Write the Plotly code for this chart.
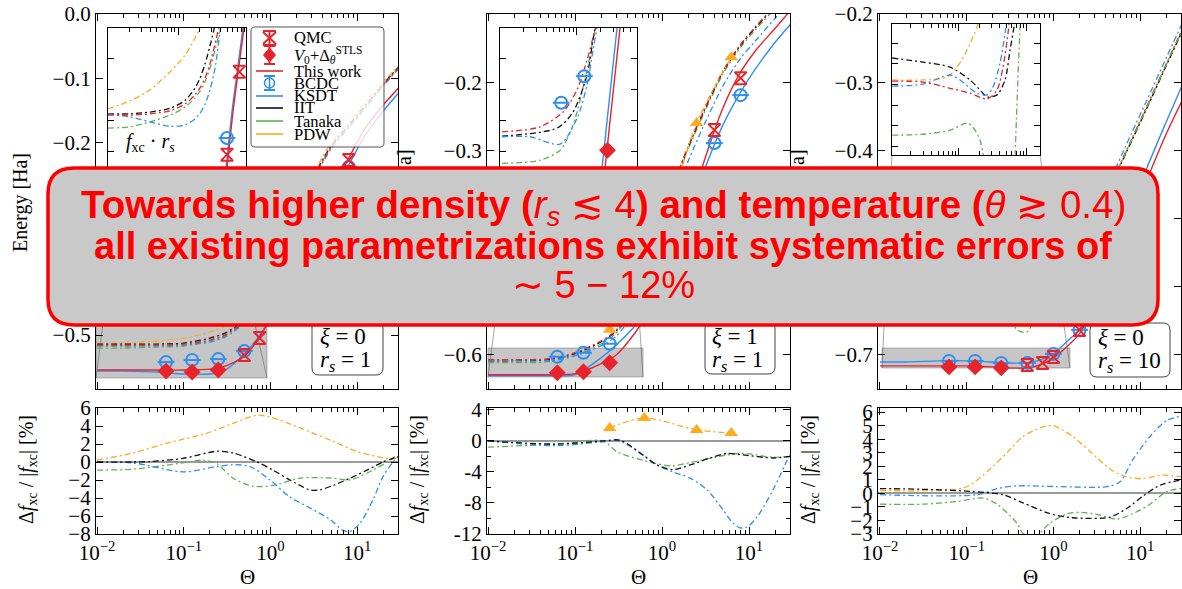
import plotly.graph_objects as go

W, H = 1182, 589

RED = "#e8232a"
BLUE = "#2f8ff0"
GREEN = "#5db350"
ORANGE = "#ffab1f"
BLACK = "#111111"
DASHDOT = "6px,3px,2px,3px"
SERIF = "Liberation Serif"
SANS = "Liberation Sans"

# ---------------------------------------------------------------- data
theta = [0.01, 0.02, 0.05, 0.1, 0.2, 0.3, 0.5, 0.7, 1, 1.5, 2, 3, 5, 8, 12, 20, 30]

# panel 1: xi = 0, rs = 1  (energies in Ha)
p1_thiswork = [-0.5545, -0.5545, -0.5545, -0.5545, -0.5530, -0.5483, -0.5327, -0.5093, -0.4735,
               -0.4221, -0.3863, -0.3333, -0.2741, -0.2243, -0.1807, -0.1417, -0.1153]
p1_ksdt = [-0.5561, -0.5561, -0.5576, -0.5607, -0.5607, -0.5545, -0.5296, -0.5062, -0.4735,
           -0.4268, -0.3941, -0.3427, -0.2850, -0.2352, -0.1916, -0.1511, -0.1231]
p1_thiswork_dd = [-0.5156, -0.5156, -0.5156, -0.5140, -0.5078, -0.5000, -0.4782, -0.4502, -0.4128,
                  -0.3536, -0.3146, -0.2601, -0.2072, -0.1745, -0.1464, -0.1106, -0.0841]
p1_ksdt_dd = [-0.5171, -0.5171, -0.5171, -0.5156, -0.5109, -0.5031, -0.4813, -0.4533, -0.4159,
              -0.3567, -0.3178, -0.2632, -0.2103, -0.1776, -0.1495, -0.1121, -0.0857]
p1_iit_dd = [-0.5140, -0.5140, -0.5140, -0.5125, -0.5047, -0.4969, -0.4766, -0.4486, -0.4112,
             -0.3520, -0.3131, -0.2586, -0.2056, -0.1729, -0.1449, -0.1090, -0.0826]
p1_tanaka_dd = [-0.5202, -0.5202, -0.5187, -0.5171, -0.5093, -0.5016, -0.4798, -0.4517, -0.4143,
                -0.3551, -0.3162, -0.2617, -0.2087, -0.1760, -0.1480, -0.1106, -0.0841]
p1_pdw_dd = [-0.5125, -0.5125, -0.5093, -0.5047, -0.4953, -0.4860, -0.4704, -0.4424, -0.4050,
             -0.3474, -0.3084, -0.2539, -0.2009, -0.1682, -0.1402, -0.1059, -0.0810]
p1_qmc_theta = [0.5, 0.75, 8]
p1_qmc = [-0.5312, -0.5047, -0.2274]
p1_v0_theta = [0.0625, 0.125, 0.25]
p1_v0 = [-0.5561, -0.5576, -0.5545]
p1_bcdc_theta = [0.0625, 0.125, 0.25, 0.5, 8]
p1_bcdc = [-0.5421, -0.5389, -0.5374, -0.5249, -0.2383]

# panel 1 inset: f_xc * rs
i1_theta_pdw = [0.01, 0.0206, 0.0398, 0.0767, 0.126, 0.175, 0.206, 0.243]
i1_pdw = [-0.5131, -0.5118, -0.5100, -0.5071, -0.5044, -0.5016, -0.5000, -0.4984]
i1_theta_iit = [0.01, 0.0206, 0.0398, 0.0767, 0.126, 0.175, 0.206, 0.243, 0.286, 0.337]
i1_iit = [-0.5139, -0.5139, -0.5136, -0.5130, -0.5117, -0.5097, -0.5081, -0.5058, -0.5029, -0.4995]
i1_theta_this = [0.01, 0.0206, 0.0398, 0.0767, 0.126, 0.175, 0.206, 0.243, 0.286, 0.337, 0.398]
i1_thiswork_dd = [-0.5141, -0.5141, -0.5139, -0.5134, -0.5123, -0.5108, -0.5097, -0.5081, -0.5058,
                  -0.5026, -0.4990]
i1_theta_long = [0.01, 0.0206, 0.0398, 0.0767, 0.126, 0.175, 0.206, 0.243, 0.286, 0.337, 0.398, 0.424]
i1_tanaka = [-0.5162, -0.5160, -0.5152, -0.5141, -0.5128, -0.5113, -0.5102, -0.5087, -0.5065,
             -0.5036, -0.5003, -0.4987]
i1_ksdt_dd = [-0.5139, -0.5144, -0.5152, -0.5159, -0.5157, -0.5147, -0.5138, -0.5123, -0.5100,
              -0.5065, -0.5006, -0.4987]
i1_theta_this_solid = [0.398, 0.50, 0.608, 0.766, 0.964]
i1_theta_ksdt_solid = [0.383, 0.484, 0.588, 0.741, 0.932]
i1_solid = [-0.5327, -0.5227, -0.5136, -0.5049, -0.4963]
i1_bcdc_theta = [0.5]
i1_bcdc = [-0.5178]
i1_qmc_theta = [0.5, 0.75]
i1_qmc = [-0.5205, -0.5071]

# panel 2: xi = 1, rs = 1
p2_thiswork = [-0.6290, -0.6290, -0.6290, -0.6275, -0.6129, -0.5997, -0.5660, -0.5367, -0.4972,
               -0.4430, -0.3947, -0.3186, -0.2381, -0.1854, -0.1531, -0.1209, -0.0946]
p2_ksdt = [-0.6305, -0.6305, -0.6305, -0.6290, -0.6041, -0.5851, -0.5558, -0.5280, -0.4928,
           -0.4387, -0.3947, -0.3318, -0.2630, -0.2146, -0.1795, -0.1414, -0.1151]
p2_thiswork_dd = [-0.6070, -0.6070, -0.6056, -0.5968, -0.5792, -0.5631, -0.5192, -0.4753, -0.4167,
                  -0.3362, -0.2937, -0.2425, -0.1839, -0.1444, -0.1180, -0.0873, -0.0653]
p2_iit_dd = [-0.6085, -0.6085, -0.6070, -0.5982, -0.5807, -0.5646, -0.5206, -0.4767, -0.4182,
             -0.3376, -0.2952, -0.2439, -0.1854, -0.1458, -0.1195, -0.0887, -0.0668]
p2_tanaka_dd = [-0.6114, -0.6114, -0.6100, -0.6012, -0.5836, -0.5675, -0.5236, -0.4796, -0.4211,
                -0.3406, -0.2981, -0.2469, -0.1883, -0.1488, -0.1224, -0.0917, -0.0697]
p2_ksdt_dd = [-0.6085, -0.6085, -0.6085, -0.6012, -0.5865, -0.5719, -0.5338, -0.4928, -0.4372,
              -0.3581, -0.3157, -0.2644, -0.2059, -0.1649, -0.1385, -0.1063, -0.0829]
p2_pdw_theta = [0.25, 0.625, 2.5, 6.25]
p2_pdw = [-0.5631, -0.4972, -0.2600, -0.1634]
p2_qmc_theta = [4, 8]
p2_qmc = [-0.2703, -0.1941]
p2_v0_theta = [0.0625, 0.125, 0.25]
p2_v0 = [-0.6261, -0.6246, -0.6114]
p2_bcdc_theta = [0.0625, 0.125, 0.25, 4, 8]
p2_bcdc = [-0.6026, -0.5968, -0.5836, -0.2893, -0.2190]

# panel 2 inset
i2_theta_this = [0.0106, 0.0331, 0.066, 0.1005, 0.1355, 0.172, 0.2]
i2_thiswork_dd = [-0.5168, -0.5160, -0.5136, -0.5100, -0.5052, -0.5003, -0.4971]
i2_theta_iit = [0.0106, 0.0552, 0.0891, 0.1355, 0.162, 0.183]
i2_iit = [-0.5175, -0.5162, -0.5136, -0.5076, -0.5019, -0.4979]
i2_theta_ksdt = [0.0106, 0.0245, 0.0604, 0.1005, 0.1355, 0.162, 0.19]
i2_ksdt_dd = [-0.5176, -0.5176, -0.5188, -0.5146, -0.5092, -0.5036, -0.4987]
i2_theta_tanaka = [0.0106, 0.0331, 0.0604, 0.0891, 0.1355, 0.172, 0.19]
i2_tanaka = [-0.5219, -0.5214, -0.5198, -0.5157, -0.5068, -0.5003, -0.4979]
i2_theta_ksdt_solid = [0.2, 0.212, 0.333, 0.35]
i2_theta_this_solid = [0.22, 0.232, 0.364, 0.38]
i2_solid = [-0.5262, -0.5227, -0.5000, -0.4971]
i2_bcdc_theta = [0.0625, 0.125]
i2_bcdc = [-0.5121, -0.5078]
i2_v0_theta = [0.25]
i2_v0 = [-0.5198]

# panel 3: xi = 0, rs = 10
p3_thiswork = [-0.7161, -0.7161, -0.7161, -0.7161, -0.7176, -0.7191, -0.7191, -0.7147, -0.7044,
               -0.6853, -0.6692, -0.6252, -0.5651, -0.5021, -0.4434, -0.3760, -0.3290]
p3_ksdt = [-0.7103, -0.7103, -0.7088, -0.7088, -0.7103, -0.7117, -0.7117, -0.7073, -0.6985,
           -0.6780, -0.6633, -0.6164, -0.5534, -0.4874, -0.4258, -0.3584, -0.3070]
p3_thiswork_dd = [-0.6194, -0.6194, -0.6194, -0.6194, -0.6179, -0.6164, -0.6120, -0.6076, -0.5974,
                  -0.5724, -0.5460, -0.4991, -0.4390, -0.3833, -0.3349, -0.2733, -0.2249]
p3_iit_dd = [-0.6135, -0.6135, -0.6150, -0.6164, -0.6179, -0.6194, -0.6164, -0.6106, -0.6003,
             -0.5754, -0.5490, -0.5021, -0.4419, -0.3862, -0.3378, -0.2762, -0.2279]
p3_pdw_dd = [-0.6194, -0.6194, -0.6194, -0.6179, -0.6135, -0.6076, -0.6018, -0.5988, -0.5930,
             -0.5710, -0.5460, -0.4991, -0.4405, -0.3848, -0.3364, -0.2748, -0.2264]
p3_ksdt_dd = [-0.6208, -0.6208, -0.6194, -0.6179, -0.6164, -0.6135, -0.6135, -0.6076, -0.5959,
              -0.5695, -0.5416, -0.4933, -0.4317, -0.3745, -0.3261, -0.2645, -0.2161]
p3_tanaka_theta = [0.01, 0.02, 0.05, 0.1, 0.2, 0.3, 0.38, 0.5, 0.65, 1, 1.5, 2, 3, 5, 8, 12, 20, 30]
p3_tanaka_dd = [-0.6267, -0.6267, -0.6252, -0.6238, -0.6194, -0.6370, -0.6633, -0.6663, -0.6370,
                -0.6018, -0.5754, -0.5475, -0.5006, -0.4405, -0.3848, -0.3364, -0.2748, -0.2264]
p3_qmc_theta = [0.5, 0.75, 1, 2]
p3_qmc = [-0.7147, -0.7117, -0.7029, -0.6633]
p3_v0_theta = [0.0625, 0.125, 0.25]
p3_v0 = [-0.7176, -0.7176, -0.7190]
p3_bcdc_theta = [0.0625, 0.125, 0.25, 0.5, 1, 2]
p3_bcdc = [-0.7088, -0.7088, -0.7117, -0.7117, -0.6985, -0.6633]

# panel 3 inset
i3_theta_iit = [0.0106, 0.030, 0.0746, 0.1465, 0.227, 0.26, 0.364, 0.477, 0.565, 0.646, 0.7]
i3_iit = [-0.5036, -0.5046, -0.5058, -0.5089, -0.5121, -0.5130, -0.5125, -0.5089, -0.5017, -0.4961, -0.4920]
i3_theta_pdw = [0.0106, 0.030, 0.0675, 0.0945, 0.1324, 0.1855, 0.21]
i3_pdw = [-0.5089, -0.5089, -0.5082, -0.5058, -0.5017, -0.4961, -0.4932]
i3_theta_this = [0.0106, 0.030, 0.0746, 0.1465, 0.26, 0.364, 0.446, 0.528, 0.565]
i3_thiswork_dd = [-0.5092, -0.5094, -0.5109, -0.5121, -0.5135, -0.5113, -0.5058, -0.4976, -0.4932]
i3_theta_ksdt = [0.0106, 0.030, 0.0746, 0.1045, 0.1855, 0.26, 0.318, 0.403, 0.477, 0.51]
i3_ksdt_dd = [-0.5104, -0.5099, -0.5077, -0.5089, -0.5121, -0.5125, -0.5106, -0.5048, -0.4976, -0.4932]
i3_theta_tanaka = [0.0106, 0.030, 0.0746, 0.1324, 0.162, 0.205, 0.227, 0.243, None, 0.66, 0.70, 0.79, 0.83]
i3_tanaka = [-0.5222, -0.5220, -0.5210, -0.5193, -0.5203, -0.5234, -0.5266, -0.5307, None,
             -0.5307, -0.5186, -0.4968, -0.4920]

# relative deviations [%]
d1_theta_pdw = [0.01, 0.026, 0.064, 0.186, 0.37, 0.70, 0.99, 2.19, 5.27, 10, 17, 24, 29.5]
d1_pdw = [0.22, 1.0, 2.1, 3.2, 4.3, 5.2, 5.0, 3.8, 2.3, 1.15, 0.6, 0.35, 0.45]
d1_theta_iit = [0.01, 0.026, 0.0408, 0.098, 0.242, 0.37, 0.70, 1.07, 1.68, 2.86, 3.73, 5.27, 8.28, 13.0, 19.9, 29.5]
d1_iit = [0.0, 0.0, 0.05, 0.4, 1.2, 1.0, 0.0, -0.9, -2.0, -3.1, -3.1, -2.6, -1.8, -0.9, 0.0, 0.6]
d1_theta_ksdt = [0.01, 0.026, 0.098, 0.242, 0.37, 0.582, 0.99, 1.68, 2.86, 4.87, 6.87, 8.28, 10.8, 15.2, 19.9, 25.9, 29.5]
d1_ksdt = [0.0, -0.1, -1.1, -0.5, -0.3, -0.5, -2.0, -3.9, -5.1, -6.4, -7.6, -7.7, -6.8, -4.2, -1.6, 0.0, 0.6]
d1_theta_tanaka = [0.01, 0.026, 0.098, 0.167, 0.242, 0.37, 0.63, 1.07, 2.19, 5.27, 8.28, 15.2, 22.1, 29.5]
d1_tanaka = [-0.9, -0.8, -0.1, 0.2, -0.2, -1.8, -2.7, -2.6, -1.8, -1.8, -2.0, -0.9, 0.0, 0.8]

d2_theta_iit = [0.01, 0.062, 0.21, 0.329, 0.605, 0.877, 1.34, 2.1, 3.56, 5.59, 8.53, 18.9, 29.6]
d2_iit = [0.0, -0.4, 0.0, 0.1, -1.8, -3.1, -3.7, -3.1, -2.2, -1.6, -1.8, -2.2, -2.0]
d2_theta_tanaka = [0.01, 0.062, 0.21, 0.304, 0.605, 1.03, 1.34, 2.1, 5.59, 8.53, 18.9, 29.6]
d2_tanaka = [-0.8, -0.4, 0.0, -1.4, -2.5, -3.1, -3.2, -2.8, -1.8, -1.6, -2.1, -2.0]
d2_theta_ksdt = [0.01, 0.062, 0.21, 0.329, 0.877, 1.34, 2.1, 3.29, 5.03, 6.55, 7.88, 9.49, 12.4, 18.9, 27.4, 29.6]
d2_ksdt = [0.0, -0.6, -0.1, 0.0, -3.1, -4.0, -4.8, -6.3, -8.9, -10.6, -11.2, -11.1, -9.8, -6.3, -2.5, -1.8]
d2_theta_pdw = [0.25, 0.625, 2.5, 6.25]
d2_pdw = [1.68, 2.97, 1.42, 1.03]

d3_theta_pdw = [0.01, 0.0773, 0.109, 0.186, 0.292, 0.446, 0.759, 0.99, 1.68, 2.64, 4.5, 7.06, 10.8, 18.4, 30.5]
d3_pdw = [0.2, 0.3, 0.6, 1.8, 3.0, 4.2, 4.9, 5.0, 4.2, 3.1, 1.8, 1.2, 1.1, 1.35, 1.2]
d3_theta_ksdt = [0.01, 0.1315, 0.224, 0.38, 1.10, 4.15, 5.87, 8.28, 13.0, 20.5, 30.5]
d3_ksdt = [-0.1, -0.1, 0.35, 0.55, 0.5, 0.5, 0.85, 2.5, 4.2, 5.4, 5.7]
d3_theta_iit = [0.01, 0.0313, 0.109, 0.262, 0.446, 0.914, 1.68, 4.5, 7.06, 10.8, 17.0, 30.5]
d3_iit = [0.35, 0.3, 0.15, -0.1, -0.7, -1.5, -1.8, -1.75, -1.1, -0.2, 0.6, 1.0]
d3_theta_tanaka = [0.01, 0.0313, 0.0773, 0.154, 0.224, 0.38, 0.446, 0.647, 0.914, 1.44, 2.03, 3.45,
                   5.42, 8.28, 13.0, 20.5, 30.5]
d3_tanaka = [-0.8, -0.8, -0.6, -0.35, -0.8, -2.2, -2.95, -3.05, -2.2, -1.5, -1.4, -1.6, -1.9, -1.5,
             -0.8, 0.15, 0.35]

legend_labels = ["QMC", "<i>V</i><sub>0</sub>+Δ<sub><i>θ</i></sub><sup>STLS</sup>", "This work",
                 "BCDC", "KSDT", "IIT", "Tanaka", "PDW"]


# ---------------------------------------------------------------- helpers
def fx(x):
    return x / W


def fy(y):
    return 1 - y / H


def dom_x(a, b):
    return [a / W, b / W]


def dom_y(top, bottom):
    return [1 - bottom / H, 1 - top / H]


def ax_name(n, kind):
    return kind + ("" if n == 1 else str(n))


fig = go.Figure()


def add_line(n, x, y, color, dash=None, width=1.3, opacity=1.0):
    fig.add_trace(go.Scatter(
        x=x, y=y, mode="lines", opacity=opacity,
        line=dict(color=color, width=width, dash=dash, shape="spline", smoothing=0.8),
        xaxis=ax_name(n, "x"), yaxis=ax_name(n, "y"), showlegend=False, hoverinfo="skip",
        connectgaps=False))


def add_markers(n, x, y, kind):
    common = dict(x=x, y=y, xaxis=ax_name(n, "x"), yaxis=ax_name(n, "y"), showlegend=False,
                  hoverinfo="skip", cliponaxis=True)
    if kind == "qmc":
        fig.add_trace(go.Scatter(mode="markers", marker=dict(
            symbol="hourglass-open", size=12, color=RED, line=dict(width=2, color=RED)), **common))
    elif kind == "v0":
        fig.add_trace(go.Scatter(mode="markers", marker=dict(
            symbol="diamond", size=13, color=RED, line=dict(width=0)), **common))
    elif kind == "bcdc":
        fig.add_trace(go.Scatter(mode="markers", marker=dict(
            symbol="circle-open", size=12, color=BLUE, line=dict(width=2, color=BLUE)), **common))
        fig.add_trace(go.Scatter(mode="markers", marker=dict(
            symbol="line-ew-open", size=12, color=BLUE, line=dict(width=2, color=BLUE)), **common))
    elif kind == "pdw":
        fig.add_trace(go.Scatter(mode="markers", marker=dict(
            symbol="triangle-up", size=12, color=ORANGE, line=dict(width=0)), **common))


TICKFONT = dict(family=SERIF, size=21, color="black")
minor_vals = [m * 10 ** e for e in (-2, -1, 0, 1) for m in range(2, 10)]
BASE = dict(showline=True, linecolor="black", linewidth=1.2, mirror="ticks", ticks="inside",
            ticklen=7, tickwidth=1.1, tickcolor="black", showgrid=False, zeroline=False,
            tickfont=TICKFONT, fixedrange=True, automargin=False)
LOGX = dict(type="log", tickmode="array", tickvals=[0.01, 0.1, 1, 10],
            minor=dict(tickmode="array", tickvals=minor_vals, ticks="inside", ticklen=4,
                       tickcolor="black", showgrid=False))

layout = {}


def set_axes(n, xdom, ydom, xcfg, ycfg):
    xa, ya = ax_name(n, "xaxis"), ax_name(n, "yaxis")
    layout[xa] = dict(BASE, domain=xdom, anchor=ax_name(n, "y"), **xcfg)
    layout[ya] = dict(BASE, domain=ydom, anchor=ax_name(n, "x"), **ycfg)


XR = [-2.012, 1.471]
main_ydom = dom_y(14, 389)
DECADES = ["10<sup>−2</sup>", "10<sup>−1</sup>", "10<sup>0</sup>", "10<sup>1</sup>"]

# panel 1 -----------------------------------------------------------
set_axes(1, dom_x(96, 398), main_ydom,
         dict(LOGX, range=XR, showticklabels=False),
         dict(range=[-0.584, 0.0], tickvals=[0, -0.1, -0.2, -0.3, -0.4, -0.5], tickformat=".1f"))
set_axes(2, dom_x(96, 398), dom_y(408, 534),
         dict(LOGX, range=XR, ticktext=DECADES),
         dict(range=[-8, 6], tickvals=[-8, -6, -4, -2, 0, 2, 4, 6],
              zeroline=True, zerolinecolor="#9a9a9a", zerolinewidth=1.5))
set_axes(3, dom_x(108, 246), dom_y(28, 285),
         dict(LOGX, range=[-2, -0.03], showticklabels=False, tickvals=[0.01, 0.1]),
         dict(range=[-0.5416, -0.5], tick0=-0.5, dtick=0.005, showticklabels=False, ticklen=6))

# panel 2 -----------------------------------------------------------
set_axes(4, dom_x(487, 790), main_ydom,
         dict(LOGX, range=XR, showticklabels=False),
         dict(range=[-0.65, -0.1], tickvals=[-0.6, -0.5, -0.4, -0.3, -0.2], tickformat=".1f"))
set_axes(5, dom_x(487, 790), dom_y(408, 534),
         dict(LOGX, range=XR, ticktext=DECADES),
         dict(range=[-12, 4.25], tickvals=[-12, -8, -4, 0, 4], ticktext=["-12", "-8", "-4", "0", "4"],
              minor=dict(tickmode="array", tickvals=[-10, -6, -2, 2], ticks="inside", ticklen=4,
                         tickcolor="black"),
              zeroline=True, zerolinecolor="#9a9a9a", zerolinewidth=1.5))
set_axes(6, dom_x(500, 637), dom_y(28, 285),
         dict(LOGX, range=[-2, -0.218], showticklabels=False, tickvals=[0.01, 0.1]),
         dict(range=[-0.5416, -0.5], tick0=-0.5, dtick=0.005, showticklabels=False, ticklen=6))

# panel 3 -----------------------------------------------------------
XR3 = [-2.023, 1.472]
set_axes(7, dom_x(878, 1181), main_ydom,
         dict(LOGX, range=XR3, showticklabels=False),
         dict(range=[-0.75, -0.2], tickvals=[-0.7, -0.6, -0.5, -0.4, -0.3, -0.2], tickformat=".1f"))
set_axes(8, dom_x(878, 1181), dom_y(408, 534),
         dict(LOGX, range=XR3, ticktext=DECADES),
         dict(range=[-3, 6.3], tickvals=[-3, -2, -1, 0, 1, 2, 3, 4, 5, 6],
              zeroline=True, zerolinecolor="#9a9a9a", zerolinewidth=1.5))
set_axes(9, dom_x(892, 1040), dom_y(24, 155),
         dict(LOGX, range=[-1.977, 0.191], showticklabels=False, tickvals=[0.01, 0.1, 1]),
         dict(range=[-0.527, -0.4954], tick0=-0.5, dtick=0.005, showticklabels=False, ticklen=6))

# ---------------------------------------------------------------- traces
for n, this_s, ksdt_s, dd in [
    (1, p1_thiswork, p1_ksdt, [(p1_pdw_dd, ORANGE), (p1_tanaka_dd, GREEN), (p1_iit_dd, BLACK),
                               (p1_ksdt_dd, BLUE), (p1_thiswork_dd, RED)]),
    (4, p2_thiswork, p2_ksdt, [(p2_tanaka_dd, GREEN), (p2_iit_dd, BLACK),
                               (p2_ksdt_dd, BLUE), (p2_thiswork_dd, RED)]),
    (7, p3_thiswork, p3_ksdt, [(p3_pdw_dd, ORANGE), (p3_iit_dd, BLACK),
                               (p3_ksdt_dd, BLUE), (p3_thiswork_dd, RED)]),
]:
    for vals, col in dd:
        add_line(n, theta, vals, col, DASHDOT, 1.3)
    add_line(n, theta, ksdt_s, BLUE, None, 1.4)
    add_line(n, theta, this_s, RED, None, 1.4)

add_line(7, p3_tanaka_theta, p3_tanaka_dd, GREEN, DASHDOT, 1.3)
add_line(4, p2_pdw_theta, p2_pdw, ORANGE, DASHDOT, 1.3)

add_markers(1, p1_bcdc_theta, p1_bcdc, "bcdc")
add_markers(1, p1_v0_theta, p1_v0, "v0")
add_markers(1, p1_qmc_theta, p1_qmc, "qmc")
add_markers(4, p2_bcdc_theta, p2_bcdc, "bcdc")
add_markers(4, p2_v0_theta, p2_v0, "v0")
add_markers(4, p2_qmc_theta, p2_qmc, "qmc")
add_markers(4, p2_pdw_theta, p2_pdw, "pdw")
add_markers(7, p3_bcdc_theta, p3_bcdc, "bcdc")
add_markers(7, p3_v0_theta, p3_v0, "v0")
add_markers(7, p3_qmc_theta, p3_qmc, "qmc")

# insets
add_line(3, i1_theta_pdw, i1_pdw, ORANGE, DASHDOT)
add_line(3, i1_theta_iit, i1_iit, BLACK, DASHDOT)
add_line(3, i1_theta_long, i1_tanaka, GREEN, DASHDOT)
add_line(3, i1_theta_long, i1_ksdt_dd, BLUE, DASHDOT)
add_line(3, i1_theta_this, i1_thiswork_dd, RED, DASHDOT)
add_line(3, i1_theta_ksdt_solid, i1_solid, BLUE, None, 1.4)
add_line(3, i1_theta_this_solid, i1_solid, RED, None, 1.4)
add_markers(3, i1_bcdc_theta, i1_bcdc, "bcdc")
add_markers(3, i1_qmc_theta, i1_qmc, "qmc")

add_line(6, i2_theta_tanaka, i2_tanaka, GREEN, DASHDOT)
add_line(6, i2_theta_iit, i2_iit, BLACK, DASHDOT)
add_line(6, i2_theta_ksdt, i2_ksdt_dd, BLUE, DASHDOT)
add_line(6, i2_theta_this, i2_thiswork_dd, RED, DASHDOT)
add_line(6, i2_theta_ksdt_solid, i2_solid, BLUE, None, 1.4)
add_line(6, i2_theta_this_solid, i2_solid, RED, None, 1.4)
add_markers(6, i2_bcdc_theta, i2_bcdc, "bcdc")
add_markers(6, i2_v0_theta, i2_v0, "v0")

add_line(9, i3_theta_tanaka, i3_tanaka, GREEN, DASHDOT)
add_line(9, i3_theta_pdw, i3_pdw, ORANGE, DASHDOT)
add_line(9, i3_theta_iit, i3_iit, BLACK, DASHDOT)
add_line(9, i3_theta_ksdt, i3_ksdt_dd, BLUE, DASHDOT)
add_line(9, i3_theta_this, i3_thiswork_dd, RED, DASHDOT)

# relative deviations
add_line(2, d1_theta_pdw, d1_pdw, ORANGE, DASHDOT)
add_line(2, d1_theta_tanaka, d1_tanaka, GREEN, DASHDOT)
add_line(2, d1_theta_ksdt, d1_ksdt, BLUE, DASHDOT)
add_line(2, d1_theta_iit, d1_iit, BLACK, DASHDOT)

add_line(5, d2_theta_tanaka, d2_tanaka, GREEN, DASHDOT)
add_line(5, d2_theta_ksdt, d2_ksdt, BLUE, DASHDOT)
add_line(5, d2_theta_iit, d2_iit, BLACK, DASHDOT)
add_line(5, d2_theta_pdw, d2_pdw, ORANGE, DASHDOT)
add_markers(5, d2_theta_pdw, d2_pdw, "pdw")

add_line(8, d3_theta_pdw, d3_pdw, ORANGE, DASHDOT)
add_line(8, d3_theta_tanaka, d3_tanaka, GREEN, DASHDOT)
add_line(8, d3_theta_ksdt, d3_ksdt, BLUE, DASHDOT)
add_line(8, d3_theta_iit, d3_iit, BLACK, DASHDOT)


# ---------------------------------------------------------------- shapes
def rounded_path(x0, y0, x1, y1, r):
    def P(x, y):
        return f"{fx(x):.5f},{fy(y):.5f}"
    return (f"M {P(x0 + r, y0)} L {P(x1 - r, y0)} Q {P(x1, y0)} {P(x1, y0 + r)} "
            f"L {P(x1, y1 - r)} Q {P(x1, y1)} {P(x1 - r, y1)} L {P(x0 + r, y1)} "
            f"Q {P(x0, y1)} {P(x0, y1 - r)} L {P(x0, y0 + r)} Q {P(x0, y0)} {P(x0 + r, y0)} Z")


shapes = []


def pline(x0, y0, x1, y1, color, width=1.0, layer="above"):
    shapes.append(dict(type="line", xref="paper", yref="paper", x0=fx(x0), y0=fy(y0),
                       x1=fx(x1), y1=fy(y1), line=dict(color=color, width=width), layer=layer))


# zoomed regions and their connectors
for (rx0, ry0, rx1, ry1), (ix0, iy1, ix1) in [((96, 305, 267, 378), (108, 285, 246)),
                                              ((488, 348, 643, 377), (500, 285, 637)),
                                              ((882, 348, 1070, 368), (892, 155, 1040))]:
    shapes.append(dict(type="rect", xref="paper", yref="paper", x0=fx(rx0), x1=fx(rx1),
                       y0=fy(ry1), y1=fy(ry0), fillcolor="rgba(120,120,120,0.42)",
                       line=dict(color="rgba(90,90,90,0.5)", width=0.8), layer="below"))
    pline(ix0, iy1, rx0, ry1, "rgba(90,90,90,0.6)", 0.9, "below")
    pline(ix1, iy1, rx1, ry1, "rgba(90,90,90,0.6)", 0.9, "below")

# legend frame and handles
shapes.append(dict(type="path", xref="paper", yref="paper", path=rounded_path(251, 27, 384, 147, 4),
                   fillcolor="rgba(255,255,255,0.8)", line=dict(color="#555555", width=1), layer="above"))
LX0, LX1, LXC = 256, 283, 269.5
for (a, b, c, d) in [(263, 31, 276, 31), (263, 45, 276, 45), (263, 32, 276, 44), (276, 32, 263, 44),
                     (LXC, 31, LXC, 45)]:
    pline(a, b, c, d, RED, 2)
pline(LXC, 46, LXC, 64, RED, 2)
pline(264, 46, 275, 46, RED, 2)
pline(264, 64, 275, 64, RED, 2)
shapes.append(dict(type="path", xref="paper", yref="paper",
                   path=f"M {fx(LXC)},{fy(48)} L {fx(LXC + 6)},{fy(55)} L {fx(LXC)},{fy(62)} "
                        f"L {fx(LXC - 6)},{fy(55)} Z",
                   fillcolor=RED, line=dict(color=RED, width=1), layer="above"))
pline(LXC, 76, LXC, 90, BLUE, 1.6)
pline(264, 76, 275, 76, BLUE, 2)
pline(264, 90, 275, 90, BLUE, 2)
shapes.append(dict(type="circle", xref="paper", yref="paper", x0=fx(LXC - 5), x1=fx(LXC + 5),
                   y0=fy(88), y1=fy(78), line=dict(color=BLUE, width=1.6), layer="above"))
for yy, col in [(71, RED), (96, BLUE), (108, BLACK), (121, GREEN), (134, ORANGE)]:
    pline(LX0, yy, LX1, yy, col, 1.6)

# parameter boxes
for (bx0, by0, bx1, by1) in [(312, 316, 383, 375), (705, 316, 775, 374), (1090, 323, 1170, 377)]:
    shapes.append(dict(type="path", xref="paper", yref="paper", path=rounded_path(bx0, by0, bx1, by1, 7),
                       fillcolor="white", line=dict(color="#444444", width=1), layer="above"))

# banner
shapes.append(dict(type="path", xref="paper", yref="paper", path=rounded_path(48, 168, 1158, 325, 26),
                   fillcolor="#c9c9c9", line=dict(color="#ff0000", width=3.5), layer="above"))

# ---------------------------------------------------------------- annotations
ann = []


def text(x, y, s, size=20, family=SERIF, color="black", xanchor="center", yanchor="middle", angle=0):
    ann.append(dict(x=fx(x), y=fy(y), xref="paper", yref="paper", text=s, showarrow=False,
                    font=dict(family=family, size=size, color=color), xanchor=xanchor,
                    yanchor=yanchor, textangle=angle))


text(20, 203, "Energy [Ha]", 20, angle=-90)
text(404, 157, "a]", 20, angle=-90)
text(797, 157, "a]", 20, angle=-90)
for xc in (27, 418, 809):
    text(xc, 470, "Δ<i>f</i><sub>xc</sub> / |<i>f</i><sub>xc</sub>| [%]", 20, angle=-90)
for xc in (247, 638, 1030):
    text(xc, 577, "Θ", 21)

text(150, 143, "<i>f</i><sub>xc</sub> · <i>r<sub>s</sub></i>", 20)

for lbl, yy in zip(legend_labels, [38, 55, 71, 83, 96, 108, 121, 134]):
    text(292, yy, lbl, 16.5, xanchor="left")

text(318, 336, "<i>ξ</i> = 0", 23, xanchor="left")
text(318, 361, "<i>r<sub>s</sub></i> = 1", 23, xanchor="left")
text(710, 336, "<i>ξ</i> = 1", 23, xanchor="left")
text(710, 361, "<i>r<sub>s</sub></i> = 1", 23, xanchor="left")
text(1096, 337, "<i>ξ</i> = 0", 23, xanchor="left")
text(1096, 362, "<i>r<sub>s</sub></i> = 10", 23, xanchor="left")

text(603, 207, "<b>Towards higher density (</b><i>r<sub>s</sub></i> ≲ 4<b>) and temperature (</b>"
               "<i>θ</i> ≳ 0.4)", 38.5, SANS, "#ff0000")
text(603, 246, "<b>all existing parametrizations exhibit systematic errors of</b>", 38, SANS, "#ff0000")
text(603, 285, "∼ 5 − 12%", 38, SANS, "#ff0000")

fig.update_layout(
    template="none",
    width=W, height=H, autosize=False, margin=dict(l=0, r=0, t=0, b=0, pad=0),
    font=dict(family=SERIF, color="black"),
    paper_bgcolor="white", plot_bgcolor="rgba(0,0,0,0)", showlegend=False,
    shapes=shapes, annotations=ann, **layout)

fig.write_html("out.html", config={"displayModeBar": False})
